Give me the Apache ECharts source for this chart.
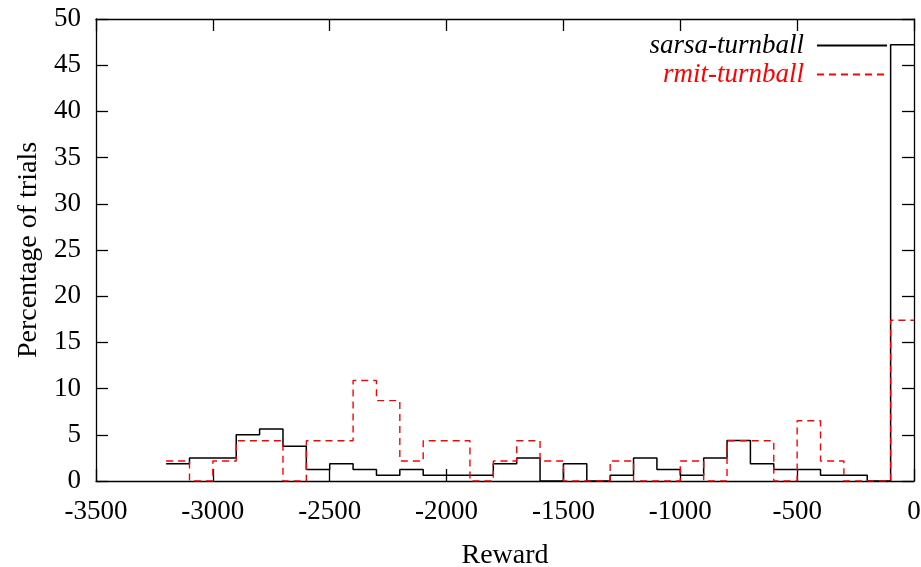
<!DOCTYPE html>
<html>
<head>
<meta charset="utf-8">
<script src="https://cdn.jsdelivr.net/npm/echarts@6/dist/echarts.min.js"></script>
<style>
html,body{margin:0;padding:0;background:#fff;}
#chart{width:921px;height:567px;}
</style>
</head>
<body>
<div id="chart"></div>
<script>
// Left edges of the 100-wide reward bins
const binStarts = [-3200,-3100,-3000,-2900,-2800,-2700,-2600,-2500,-2400,-2300,-2200,-2100,-2000,-1900,-1800,-1700,-1600,-1500,-1400,-1300,-1200,-1100,-1000,-900,-800,-700,-600,-500,-400,-300,-200,-100];
const binEnd = 0;
// Percentage of trials per bin
const sarsaValues = [1.875,2.5,2.5,5.0,5.625,3.75,1.25,1.875,1.25,0.625,1.25,0.625,0.625,0.625,1.875,2.5,0,1.875,0,0.625,2.5,1.25,0.625,2.5,4.375,1.875,1.25,1.25,0.625,0.625,0,47.2];
const rmitValues  = [2.17,0,2.17,4.35,4.35,0,4.35,4.35,10.87,8.70,2.17,4.35,4.35,0,2.17,4.35,2.17,0,0,2.17,0,0,2.17,0,4.35,4.35,0,6.52,2.17,0,0,17.39];
const seriesNames = ['sarsa-turnball','rmit-turnball'];
const xTicks = {min:-3500, max:0, interval:500};
const yTicks = {min:0, max:50, interval:5};

function steps(vals){
  const pts = binStarts.map((x,i)=>[x, vals[i]]);
  pts.push([binEnd, vals[vals.length-1]]);
  return pts;
}

const FONT = '"Liberation Serif", "Times New Roman", serif';
const chart = echarts.init(document.getElementById('chart'), null, {renderer:'canvas'});
const axisLineStyle = {color:'#000', width:1.3};
const plain = v => String(v);
const baseX = {type:'value', min:xTicks.min, max:xTicks.max, interval:xTicks.interval,
  splitLine:{show:false}, axisLine:{show:true, onZero:false, lineStyle:axisLineStyle},
  axisTick:{show:true, inside:true, length:12, lineStyle:axisLineStyle}};
const baseY = {type:'value', min:yTicks.min, max:yTicks.max, interval:yTicks.interval,
  splitLine:{show:false}, axisLine:{show:true, onZero:false, lineStyle:axisLineStyle},
  axisTick:{show:true, inside:true, length:12, lineStyle:axisLineStyle}};

chart.setOption({
  animation:false,
  backgroundColor:'#fff',
  grid:{left:96, right:7, top:19, bottom:86, containLabel:false, outerBoundsMode:'none'},
  xAxis:[
    Object.assign({}, baseX, {position:'bottom',
      name:'Reward', nameLocation:'middle', nameGap:61,
      nameTextStyle:{fontFamily:FONT, fontSize:28, color:'#000'},
      axisLabel:{show:true, margin:17, fontFamily:FONT, fontSize:27, color:'#000', formatter:plain}}),
    Object.assign({}, baseX, {position:'top', axisLabel:{show:false}})
  ],
  yAxis:[
    Object.assign({}, baseY, {position:'left',
      name:'Percentage of trials', nameLocation:'middle', nameGap:52,
      nameTextStyle:{fontFamily:FONT, fontSize:28, color:'#000'},
      axisLabel:{show:true, margin:15, fontFamily:FONT, fontSize:27, color:'#000', formatter:plain}}),
    Object.assign({}, baseY, {position:'right', axisLabel:{show:false}})
  ],
  legend:{
    orient:'vertical', align:'right', right:28, top:27,
    itemWidth:70, itemHeight:14, itemGap:2,
    itemStyle:{opacity:0},
    data:[
      {name:seriesNames[0], textStyle:{color:'#000'}},
      {name:seriesNames[1], textStyle:{color:'#ff0000'}}
    ],
    textStyle:{fontFamily:FONT, fontSize:27, fontStyle:'italic', lineHeight:27, padding:[0,8,0,0]}
  },
  series:[
    {name:seriesNames[0], type:'line', step:'end', symbol:'none', data:steps(sarsaValues),
     lineStyle:{color:'#000', width:1.5, type:'solid'}, itemStyle:{color:'#000'}, z:3},
    {name:seriesNames[1], type:'line', step:'end', symbol:'none', data:steps(rmitValues),
     lineStyle:{color:'#ff0000', width:1.4, type:[7,5]}, itemStyle:{color:'#ff0000'}, z:4}
  ]
});
</script>
</body>
</html>
